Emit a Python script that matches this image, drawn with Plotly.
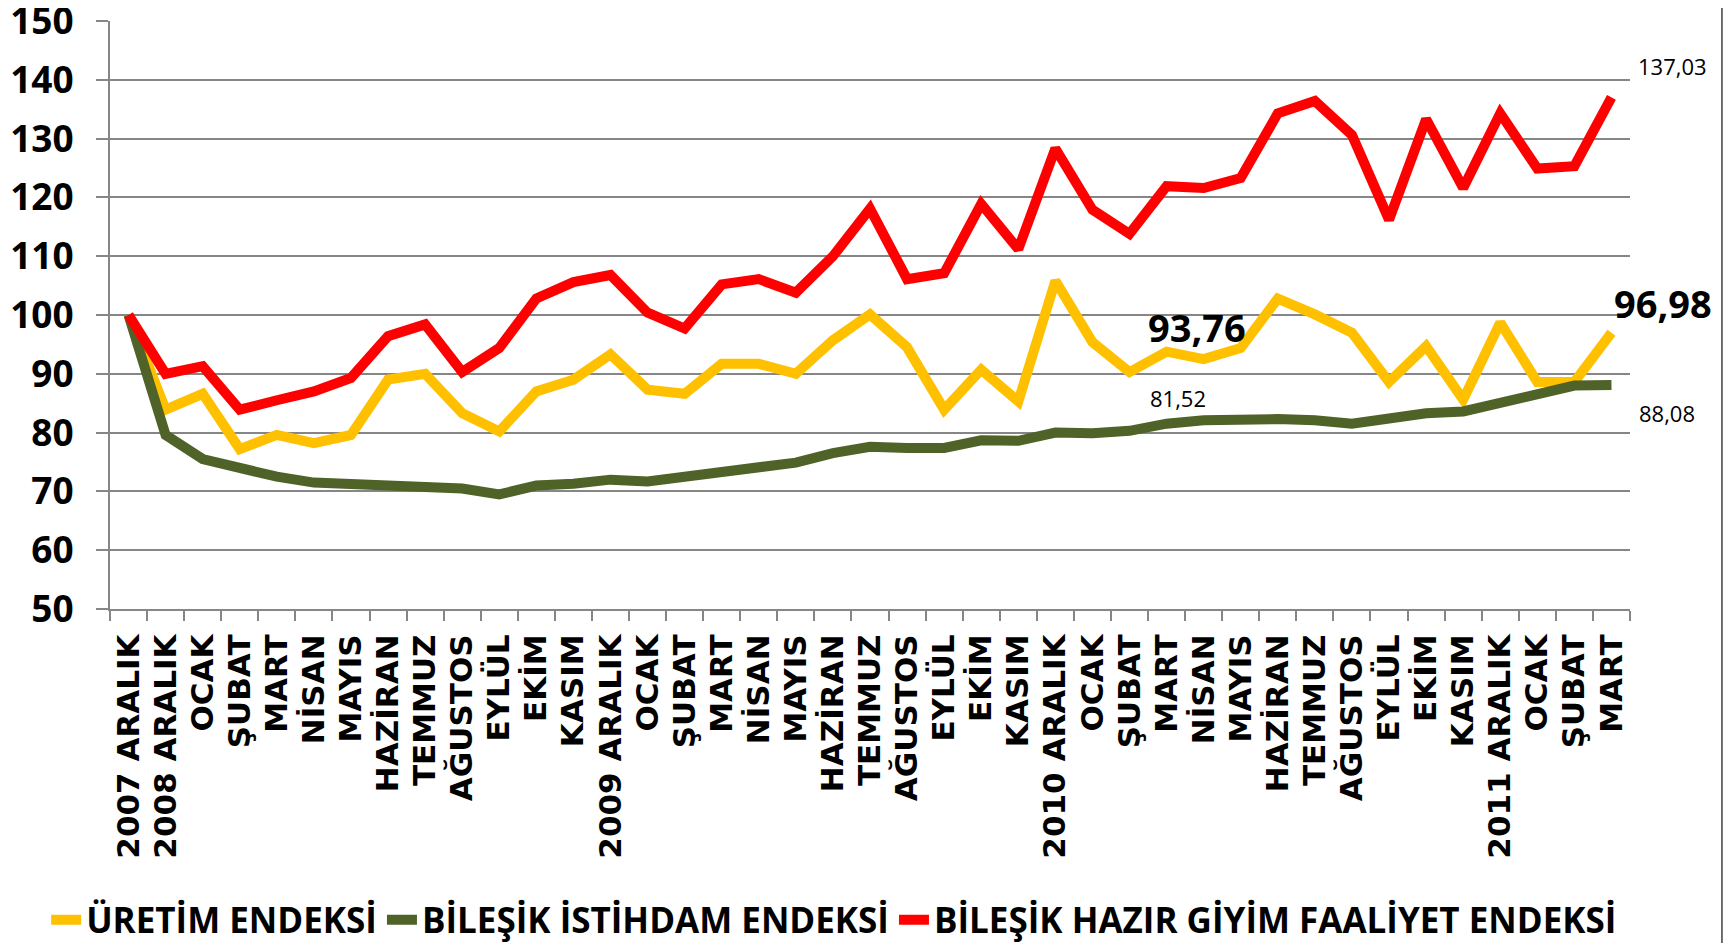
import plotly.graph_objects as go

# category labels along the x axis
months = ["2007 ARALIK", "2008 ARALIK", "OCAK", "ŞUBAT", "MART", "NİSAN", "MAYIS",
          "HAZİRAN", "TEMMUZ", "AĞUSTOS", "EYLÜL", "EKİM", "KASIM",
          "2009 ARALIK", "OCAK", "ŞUBAT", "MART", "NİSAN", "MAYIS",
          "HAZİRAN", "TEMMUZ", "AĞUSTOS", "EYLÜL", "EKİM", "KASIM",
          "2010 ARALIK", "OCAK", "ŞUBAT", "MART", "NİSAN", "MAYIS",
          "HAZİRAN", "TEMMUZ", "AĞUSTOS", "EYLÜL", "EKİM", "KASIM",
          "2011 ARALIK", "OCAK", "ŞUBAT", "MART"]

uretim = [100, 83.9, 86.6, 77.2, 79.6, 78.2, 79.6, 89.0, 90.0, 83.3, 80.2, 87.0, 89.0,
          93.3, 87.3, 86.6, 91.7, 91.7, 90.0, 95.7, 100.1, 94.5, 83.9, 90.7, 85.3,
          105.8, 95.4, 90.3, 93.76, 92.5, 94.4, 102.8, 100.1, 97.0, 88.6, 94.7, 85.6,
          98.7, 88.6, 88.6, 96.98]

istihdam = [100, 79.6, 75.5, 73.9, 72.5, 71.5, 71.2, 71.2, 71.0, 70.5, 69.5, 71.0, 71.3,
            72.0, 71.7, 72.5, 73.5, 74.2, 74.9, 76.5, 77.6, 77.4, 77.4, 78.7, 78.6,
            80.0, 79.9, 80.3, 81.52, 82.1, 82.3, 82.3, 82.1, 81.5, 82.4, 83.3, 83.6,
            85.1, 86.6, 88.0, 88.08]

hazir_giyim = [100, 90.0, 91.3, 83.9, 85.5, 87.0, 89.3, 96.4, 98.4, 90.3, 94.4, 102.8, 105.6,
               106.8, 100.4, 97.7, 105.2, 106.1, 103.8, 110.0, 118.1, 106.1, 107.1, 118.9, 111.2,
               128.3, 117.9, 113.8, 121.9, 121.6, 123.3, 134.3, 136.4, 130.6, 116.2, 133.3, 121.6,
               134.3, 124.9, 125.3, 137.03]

y_ticks = [50, 60, 70, 80, 90, 100, 110, 120, 130, 140, 150]

series = [
    ("ÜRETİM ENDEKSİ", uretim, "#FFC000"),
    ("BİLEŞİK İSTİHDAM ENDEKSİ", istihdam, "#4F6228"),
    ("BİLEŞİK HAZIR GİYİM FAALİYET ENDEKSİ", hazir_giyim, "#FF0000"),
]

x = list(range(len(months)))

fig = go.Figure()
for name, vals, color in series:
    fig.add_trace(go.Scatter(x=x, y=vals, name=name, mode="lines",
                             line=dict(color=color, width=10)))


def fmt(v):
    return f"{v:.2f}".replace(".", ",")


last = len(months) - 1
mid = 28  # 2010 MART
labels = [
    (last, hazir_giyim[last], 61, 31, 22, "normal"),
    (last, uretim[last], 52, 30, 38, "bold"),
    (last, istihdam[last], 56, -28, 22, "normal"),
    (mid, uretim[mid], 30, 25, 38, "bold"),
    (mid, istihdam[mid], 11, 26, 22, "normal"),
]
for xi, v, dx, dy, size, weight in labels:
    fig.add_annotation(x=xi, y=v, text=fmt(v), showarrow=False,
                       xshift=dx, yshift=dy,
                       font=dict(family="Open Sans", size=size, color="black", weight=weight))

# page body adds an 8px offset, so the figure is 8px smaller
fig.update_layout(
    width=1725, height=935,
    paper_bgcolor="white", plot_bgcolor="white",
    margin=dict(l=102, r=103, t=13, b=334, autoexpand=False),
    showlegend=True,
    legend=dict(orientation="h", x=-0.042, xanchor="left", y=-0.529, yanchor="middle",
                font=dict(family="Open Sans", size=35, color="black", weight="bold"),
                itemwidth=30, tracegroupgap=0),
    shapes=[
        dict(type="line", xref="paper", yref="paper", x0=1.0605, x1=1.0605, y0=-0.6, y1=1.1,
             line=dict(color="#404040", width=1.5)),
    ],
)

fig.update_xaxes(
    range=[-0.5, len(months) - 0.5],
    tickmode="array", tickvals=x, ticktext=months, tickangle=-90,
    tickfont=dict(family="DejaVu Sans", size=31, color="black", weight="bold"),
    ticks="", ticklabelstandoff=11,
    minor=dict(tickmode="array", tickvals=[i - 0.5 for i in range(len(months) + 1)],
               ticks="outside", ticklen=10, tickcolor="#868686", tickwidth=1.5, showgrid=False),
    showgrid=False, zeroline=False,
    showline=True, linecolor="#868686", linewidth=2,
)

fig.update_yaxes(
    range=[50, 150], tickmode="array", tickvals=y_ticks,
    tickfont=dict(family="Open Sans", size=37, color="black", weight="bold"),
    ticks="outside", ticklen=12, tickcolor="#868686", tickwidth=1.5, ticklabelstandoff=15,
    ticklabeloverflow="allow",
    showgrid=True, gridcolor="#868686", gridwidth=2, zeroline=False,
    showline=True, linecolor="#868686", linewidth=2,
)

fig.write_html("out.html")
